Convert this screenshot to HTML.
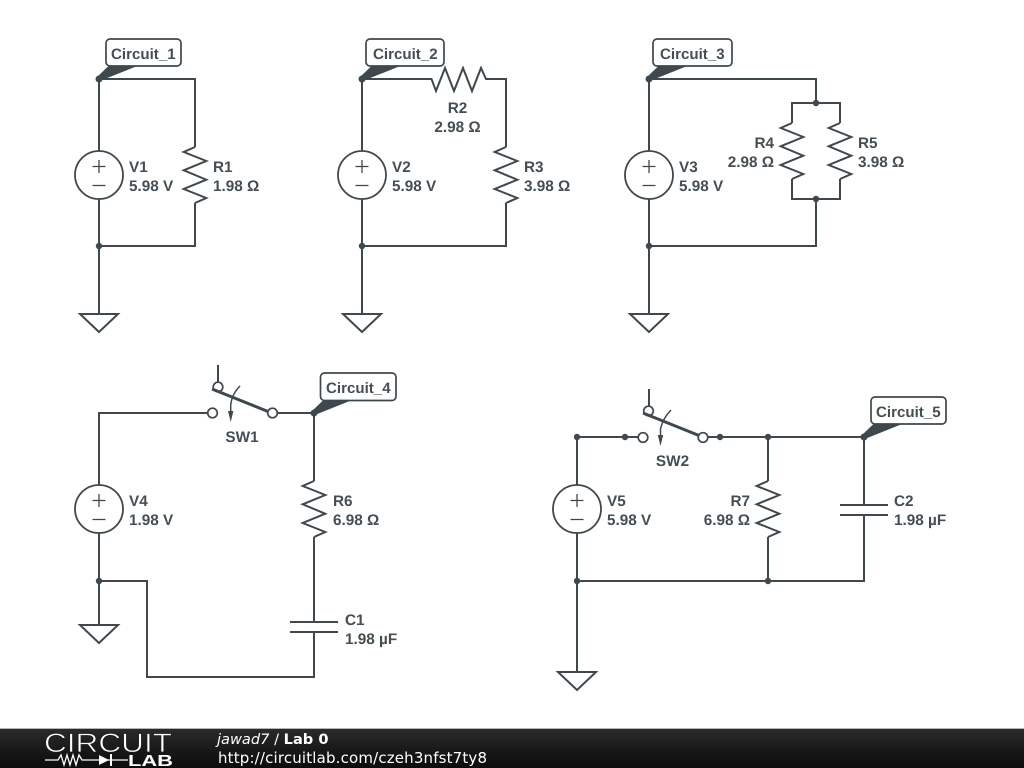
<!DOCTYPE html>
<html><head><meta charset="utf-8"><style>
html,body{margin:0;padding:0;background:#fff;width:1024px;height:768px;overflow:hidden}
svg{display:block}
.w{fill:none;stroke:#3f484d;stroke-width:2;stroke-linejoin:miter}
.t{font:bold 15.3px "Liberation Sans",sans-serif;fill:#454e53;text-rendering:geometricPrecision}
.c{font:bold 15.1px "Liberation Sans",sans-serif;fill:#454e53;text-rendering:geometricPrecision}
.d{fill:#3f484d}
.b{fill:#fff;stroke:#3f484d;stroke-width:1.7}
</style></head><body>
<svg width="1024" height="768" viewBox="0 0 1024 768" xmlns="http://www.w3.org/2000/svg">
<defs>
<linearGradient id="g" x1="0" y1="0" x2="0" y2="1"><stop offset="0" stop-color="#2a2a2a"/><stop offset="0.5" stop-color="#1a1a1a"/><stop offset="1" stop-color="#0c0c0c"/></linearGradient>
<g id="src"><circle cx="0" cy="0" r="24" fill="#fff" stroke="#3f484d" stroke-width="1.8"/><path d="M-6.500 -8.500H6.500M0 -15V-2M-6.500 10.500H6.500" fill="none" stroke="#3f484d" stroke-width="1.300"/></g>
<polyline id="rv" class="w" points="0,-28 -11.300,-23 11.300,-14 -11.300,-4.700 11.300,4.700 -11.300,14 11.300,23 0,28"/>
<path id="gnd" class="w" d="M-19 0H19L0 18Z"/>
<path id="ptr" class="d" d="M-2 -2L9 -12.500H37L2 1.500Z"/>
</defs>

<!-- Circuit 1 -->
<path class="w" d="M99 79V151M99 199V314M99 79H195V147M195 203V246H99"/>
<use href="#src" x="99" y="175"/><use href="#rv" x="195" y="175"/><use href="#gnd" x="99" y="314"/>
<circle class="d" cx="99" cy="79" r="3.500"/><circle class="d" cx="99" cy="246" r="3.200"/>
<text class="t" x="129" y="172">V1</text><text class="t" x="129" y="191">5.98 V</text>
<text class="t" x="213" y="172">R1</text><text class="t" x="213" y="191">1.98 Ω</text>
<rect class="b" x="106" y="39" width="75" height="27" rx="4"/><text class="c" x="111" y="59">Circuit_1</text>
<use href="#ptr" x="99" y="79"/>

<!-- Circuit 2 -->
<path class="w" d="M362 79V151M362 199V314M362 79H431.500L436 91 445 68 454 91 463 68 472 91 481 68 486 79H506V147M506 203V246H362"/>
<use href="#src" x="362" y="175"/><use href="#rv" x="506" y="175"/><use href="#gnd" x="362" y="314"/>
<circle class="d" cx="362" cy="79" r="3.500"/><circle class="d" cx="362" cy="246" r="3.200"/>
<text class="t" x="392" y="172">V2</text><text class="t" x="392" y="191">5.98 V</text>
<text class="t" x="457.500" y="113" text-anchor="middle">R2</text><text class="t" x="457.500" y="132" text-anchor="middle">2.98 Ω</text>
<text class="t" x="524" y="172">R3</text><text class="t" x="524" y="191">3.98 Ω</text>
<rect class="b" x="366" y="39" width="78" height="27" rx="4"/><text class="c" x="373" y="59">Circuit_2</text>
<use href="#ptr" x="362" y="79"/>

<!-- Circuit 3 -->
<path class="w" d="M649 79V151M649 199V314M649 79H816V103M792 123V103H840V123M792 179V199H840V179M816 199V246H649"/>
<use href="#src" x="649" y="175"/><use href="#rv" x="792" y="151"/><use href="#rv" x="840" y="151"/><use href="#gnd" x="649" y="314"/>
<circle class="d" cx="649" cy="79" r="3.500"/><circle class="d" cx="649" cy="246" r="3.200"/><circle class="d" cx="816" cy="103" r="3.200"/><circle class="d" cx="816" cy="199" r="3.200"/>
<text class="t" x="679" y="172">V3</text><text class="t" x="679" y="191">5.98 V</text>
<text class="t" x="774" y="148" text-anchor="end">R4</text><text class="t" x="774" y="167" text-anchor="end">2.98 Ω</text>
<text class="t" x="858" y="148">R5</text><text class="t" x="858" y="167">3.98 Ω</text>
<rect class="b" x="653" y="39" width="79" height="27" rx="4"/><text class="c" x="660" y="59">Circuit_3</text>
<use href="#ptr" x="649" y="79"/>

<!-- Circuit 4 -->
<path class="w" d="M99 485V413H207M277 413H314V481M314 537V622M314 632V677H147V581H99M99 533V625"/>
<path class="w" d="M290 622H338M290 632H338"/>
<use href="#src" x="99" y="509"/><use href="#rv" x="314" y="509"/><use href="#gnd" x="99" y="625"/>
<circle class="d" cx="99" cy="581" r="3.200"/>
<path class="w" d="M218 365V382"/>
<circle class="b" cx="218" cy="387" r="4.800"/><circle class="b" cx="212.500" cy="413" r="4.800"/><circle class="b" cx="272.500" cy="413" r="4.800"/>
<path class="w" style="stroke-width:3" d="M212 389L268 411.500"/>
<path class="w" style="stroke-width:1.500" d="M240 386Q232 394 230.700 405V416"/><path class="d" d="M230.700 422L228 411H233.400Z"/>
<text class="t" x="242" y="442" text-anchor="middle">SW1</text>
<text class="t" x="129" y="506">V4</text><text class="t" x="129" y="525">1.98 V</text>
<text class="t" x="333" y="506">R6</text><text class="t" x="333" y="525">6.98 Ω</text>
<text class="t" x="345" y="625">C1</text><text class="t" x="345" y="644">1.98 µF</text>
<rect class="b" x="320.500" y="373" width="75.500" height="27.500" rx="4"/><text class="c" x="326" y="393">Circuit_4</text>
<use href="#ptr" x="314" y="413"/><circle class="d" cx="314" cy="413" r="3.500"/>

<!-- Circuit 5 -->
<path class="w" d="M577 485V437H638M707 437H864V505M864 515V581H577M577 533V672M768 437V481M768 537V581"/>
<path class="w" d="M840 505H888M840 515H888"/>
<use href="#src" x="577" y="509"/><use href="#rv" x="768" y="509"/><use href="#gnd" x="577" y="672"/>
<circle class="d" cx="577" cy="437" r="3.200"/><circle class="d" cx="625" cy="437" r="3.200"/><circle class="d" cx="720" cy="437" r="3.200"/><circle class="d" cx="768" cy="437" r="3.200"/><circle class="d" cx="577" cy="581" r="3.200"/><circle class="d" cx="768" cy="581" r="3.200"/>
<path class="w" d="M649 389V406"/>
<circle class="b" cx="648.500" cy="411" r="4.800"/><circle class="b" cx="643" cy="437.500" r="4.800"/><circle class="b" cx="703" cy="437.500" r="4.800"/>
<path class="w" style="stroke-width:3" d="M643 413L699 435.500"/>
<path class="w" style="stroke-width:1.500" d="M671 410Q663 418 660.500 429V440"/><path class="d" d="M660.500 446L657.800 435H663.200Z"/>
<text class="t" x="672.500" y="466" text-anchor="middle">SW2</text>
<text class="t" x="607" y="506">V5</text><text class="t" x="607" y="525">5.98 V</text>
<text class="t" x="750" y="506" text-anchor="end">R7</text><text class="t" x="750" y="525" text-anchor="end">6.98 Ω</text>
<text class="t" x="894" y="506">C2</text><text class="t" x="894" y="525">1.98 µF</text>
<rect class="b" x="871" y="397" width="75" height="27" rx="4"/><text class="c" x="876" y="417">Circuit_5</text>
<use href="#ptr" x="864" y="437"/><circle class="d" cx="864" cy="437" r="3.500"/>

<!-- Footer -->
<rect x="0" y="729" width="1024" height="39" fill="url(#g)"/>
<rect x="0" y="728" width="1024" height="1" fill="#b5b5b5"/>
<text x="44" y="752" font-family="Liberation Sans, sans-serif" font-size="27" fill="#fff" stroke="#1b1b1b" stroke-width="0.700" textLength="128" lengthAdjust="spacingAndGlyphs">CIRCUIT</text>
<path fill="none" stroke="#fff" stroke-width="1.300" d="M45 760H58L61 755 64 765 67 755 70 765 73 755 76 765 79 755 82 760H128"/>
<path fill="#fff" d="M99 755L109 760 99 765ZM110 754H112V766H110Z"/>
<text x="128" y="766" font-family="Liberation Sans, sans-serif" font-size="16" font-weight="bold" fill="#fff" textLength="45" lengthAdjust="spacingAndGlyphs">LAB</text>
<text x="217" y="744" font-family="DejaVu Sans, sans-serif" font-size="14.600" fill="#fff"><tspan font-style="oblique">jawad7</tspan> / <tspan font-weight="bold">Lab 0</tspan></text>
<text x="218" y="763" font-family="DejaVu Sans, sans-serif" font-size="15" fill="#fff" textLength="269">http://circuitlab.com/czeh3nfst7ty8</text>
</svg>
</body></html>
